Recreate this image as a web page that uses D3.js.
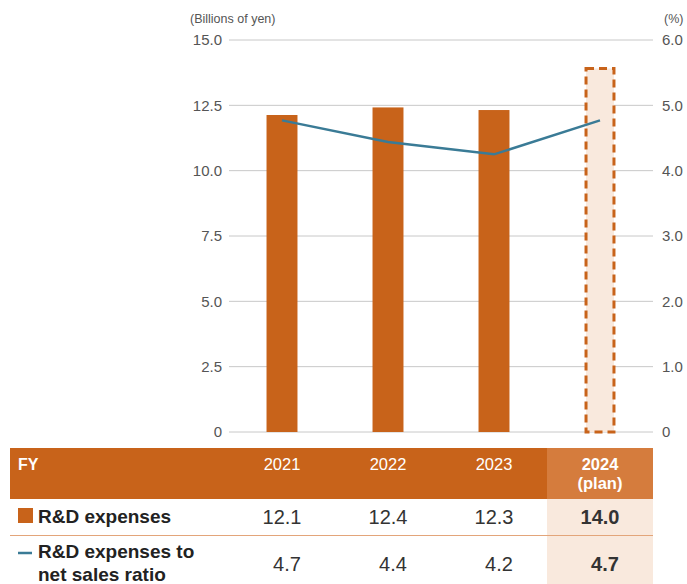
<!DOCTYPE html>
<html>
<head>
<meta charset="utf-8">
<script src="https://cdn.jsdelivr.net/npm/d3@7"></script>
<style>
  body { margin: 0; background: #fff; }
  svg { display: block; font-family: "Liberation Sans", Arial, sans-serif; }
</style>
</head>
<body>
<div id="chart"></div>
<script>
// data
var years = ["2021", "2022", "2023", "2024"];
var rdExpenses = [12.13, 12.42, 12.32, 13.97];
var rdRatio = [4.77, 4.44, 4.25, 4.77];
var expenseLabels = ["12.1", "12.4", "12.3", "14.0"];
var ratioLabels = ["4.7", "4.4", "4.2", "4.7"];
var leftTicks = [0, 2.5, 5.0, 7.5, 10.0, 12.5, 15.0];
var rightTicks = [0, 1.0, 2.0, 3.0, 4.0, 5.0, 6.0];

var W = 687, H = 584;
var orange = "#c8631a", planHead = "#d57c3d", planFill = "#f9e9dd", blue = "#3a7b96";

var svg = d3.select("#chart").append("svg")
	.attr("width", W)
	.attr("height", H);

var plotL = 229, plotR = 653, plotT = 40, plotB = 432;

var x = d3.scaleBand()
	.domain(years)
	.range([plotL, plotR])
	.paddingInner(0.708)
	.paddingOuter(0.354);

var y = d3.scaleLinear().domain([0, 15]).range([plotB, plotT]);
var y2 = d3.scaleLinear().domain([0, 6]).range([plotB, plotT]);

// gridlines
svg.append("g")
	.selectAll("line")
	.data(leftTicks)
	.enter().append("line")
	.attr("x1", plotL).attr("x2", plotR)
	.attr("y1", function(d){ return y(d); })
	.attr("y2", function(d){ return y(d); })
	.attr("stroke", "#c8c8c8")
	.attr("stroke-width", 1);

// left axis
var leftAxis = svg.append("g")
	.attr("transform", "translate(" + plotL + ",0)")
	.call(d3.axisLeft(y).tickValues(leftTicks).tickSize(0).tickPadding(7)
		.tickFormat(function(d){ return d === 0 ? "0" : d3.format(".1f")(d); }));
leftAxis.select(".domain").remove();
leftAxis.selectAll("text")
	.attr("fill", "#555")
	.style("font-size", "15px");

// right axis
var rightAxis = svg.append("g")
	.attr("transform", "translate(" + plotR + ",0)")
	.call(d3.axisRight(y2).tickValues(rightTicks).tickSize(0).tickPadding(9)
		.tickFormat(function(d){ return d === 0 ? "0" : d3.format(".1f")(d); }));
rightAxis.select(".domain").remove();
rightAxis.selectAll("text")
	.attr("fill", "#555")
	.style("font-size", "15px");

svg.append("text")
	.attr("x", 190).attr("y", 23)
	.attr("fill", "#555")
	.style("font-size", "12.5px")
	.text("(Billions of yen)");

svg.append("text")
	.attr("x", 664).attr("y", 23)
	.attr("fill", "#555")
	.style("font-size", "12.5px")
	.text("(%)");

// bars
svg.selectAll(".bar")
	.data(years.slice(0, 3))
	.enter().append("rect")
	.attr("class", "bar")
	.attr("x", function(d){ return x(d); })
	.attr("width", x.bandwidth())
	.attr("y", function(d, i){ return y(rdExpenses[i]); })
	.attr("height", function(d, i){ return plotB - y(rdExpenses[i]); })
	.attr("fill", orange);

// plan bar
svg.append("rect")
	.attr("x", x("2024") + 1.5)
	.attr("width", x.bandwidth() - 3)
	.attr("y", y(rdExpenses[3]) + 1.5)
	.attr("height", plotB - y(rdExpenses[3]) - 1.5)
	.attr("fill", planFill)
	.attr("stroke", orange)
	.attr("stroke-width", 3)
	.attr("stroke-dasharray", "8,5");

// ratio line
var line = d3.line()
	.x(function(d, i){ return x(years[i]) + x.bandwidth() / 2; })
	.y(function(d){ return y2(d); });

svg.append("path")
	.datum(rdRatio)
	.attr("d", line)
	.attr("fill", "none")
	.attr("stroke", blue)
	.attr("stroke-width", 2.5);

// table
var tL = 10, tR = 653, hTop = 448, hBot = 499, r1Bot = 535, r2Bot = 584;
var planX0 = x("2024") + x.bandwidth() / 2 - 53;

svg.append("rect")
	.attr("x", tL).attr("y", hTop)
	.attr("width", tR - tL).attr("height", hBot - hTop)
	.attr("fill", orange);
svg.append("rect")
	.attr("x", planX0).attr("y", hTop)
	.attr("width", tR - planX0).attr("height", hBot - hTop)
	.attr("fill", planHead);
svg.append("rect")
	.attr("x", planX0).attr("y", hBot)
	.attr("width", tR - planX0).attr("height", r2Bot - hBot)
	.attr("fill", planFill);
svg.append("line")
	.attr("x1", tL).attr("x2", tR)
	.attr("y1", r1Bot + 0.5).attr("y2", r1Bot + 0.5)
	.attr("stroke", "#e3a57a")
	.attr("stroke-width", 1);

svg.append("text")
	.attr("x", 18).attr("y", 470)
	.attr("fill", "#fff")
	.style("font-size", "16px")
	.style("font-weight", "bold")
	.text("FY");

svg.selectAll(".yr")
	.data(years.slice(0, 3))
	.enter().append("text")
	.attr("class", "yr")
	.attr("x", function(d){ return x(d) + x.bandwidth() / 2; })
	.attr("y", 470)
	.attr("text-anchor", "middle")
	.attr("fill", "#fff")
	.style("font-size", "16.5px")
	.text(function(d){ return d; });

var planHeadText = svg.append("text")
	.attr("x", x("2024") + x.bandwidth() / 2)
	.attr("y", 470)
	.attr("text-anchor", "middle")
	.attr("fill", "#fff")
	.style("font-size", "16.5px")
	.style("font-weight", "bold");
planHeadText.append("tspan").attr("x", x("2024") + x.bandwidth() / 2).text("2024");
planHeadText.append("tspan").attr("x", x("2024") + x.bandwidth() / 2).attr("dy", 19).text("(plan)");

// row labels
svg.append("rect")
	.attr("x", 18).attr("y", 508)
	.attr("width", 15).attr("height", 15)
	.attr("fill", orange);
svg.append("text")
	.attr("x", 38).attr("y", 523)
	.attr("fill", "#222")
	.style("font-size", "19px")
	.style("font-weight", "bold")
	.text("R&D expenses");

svg.append("line")
	.attr("x1", 18).attr("x2", 32)
	.attr("y1", 553).attr("y2", 553)
	.attr("stroke", blue)
	.attr("stroke-width", 2.5);
svg.append("text")
	.attr("x", 38).attr("y", 558)
	.attr("fill", "#222")
	.style("font-size", "19px")
	.style("font-weight", "bold")
	.text("R&D expenses to");
svg.append("text")
	.attr("x", 38).attr("y", 581)
	.attr("fill", "#222")
	.style("font-size", "19px")
	.style("font-weight", "bold")
	.text("net sales ratio");

// values
svg.selectAll(".v1")
	.data(expenseLabels)
	.enter().append("text")
	.attr("x", function(d, i){ return x(years[i]) + x.bandwidth() / 2; })
	.attr("y", 524)
	.attr("text-anchor", "middle")
	.attr("fill", "#333")
	.style("font-size", "20px")
	.style("font-weight", function(d, i){ return i === 3 ? "bold" : "normal"; })
	.text(function(d){ return d; });

svg.selectAll(".v2")
	.data(ratioLabels)
	.enter().append("text")
	.attr("x", function(d, i){ return x(years[i]) + x.bandwidth() / 2 + 5; })
	.attr("y", 571)
	.attr("text-anchor", "middle")
	.attr("fill", "#333")
	.style("font-size", "20px")
	.style("font-weight", function(d, i){ return i === 3 ? "bold" : "normal"; })
	.text(function(d){ return d; });
</script>
</body>
</html>
